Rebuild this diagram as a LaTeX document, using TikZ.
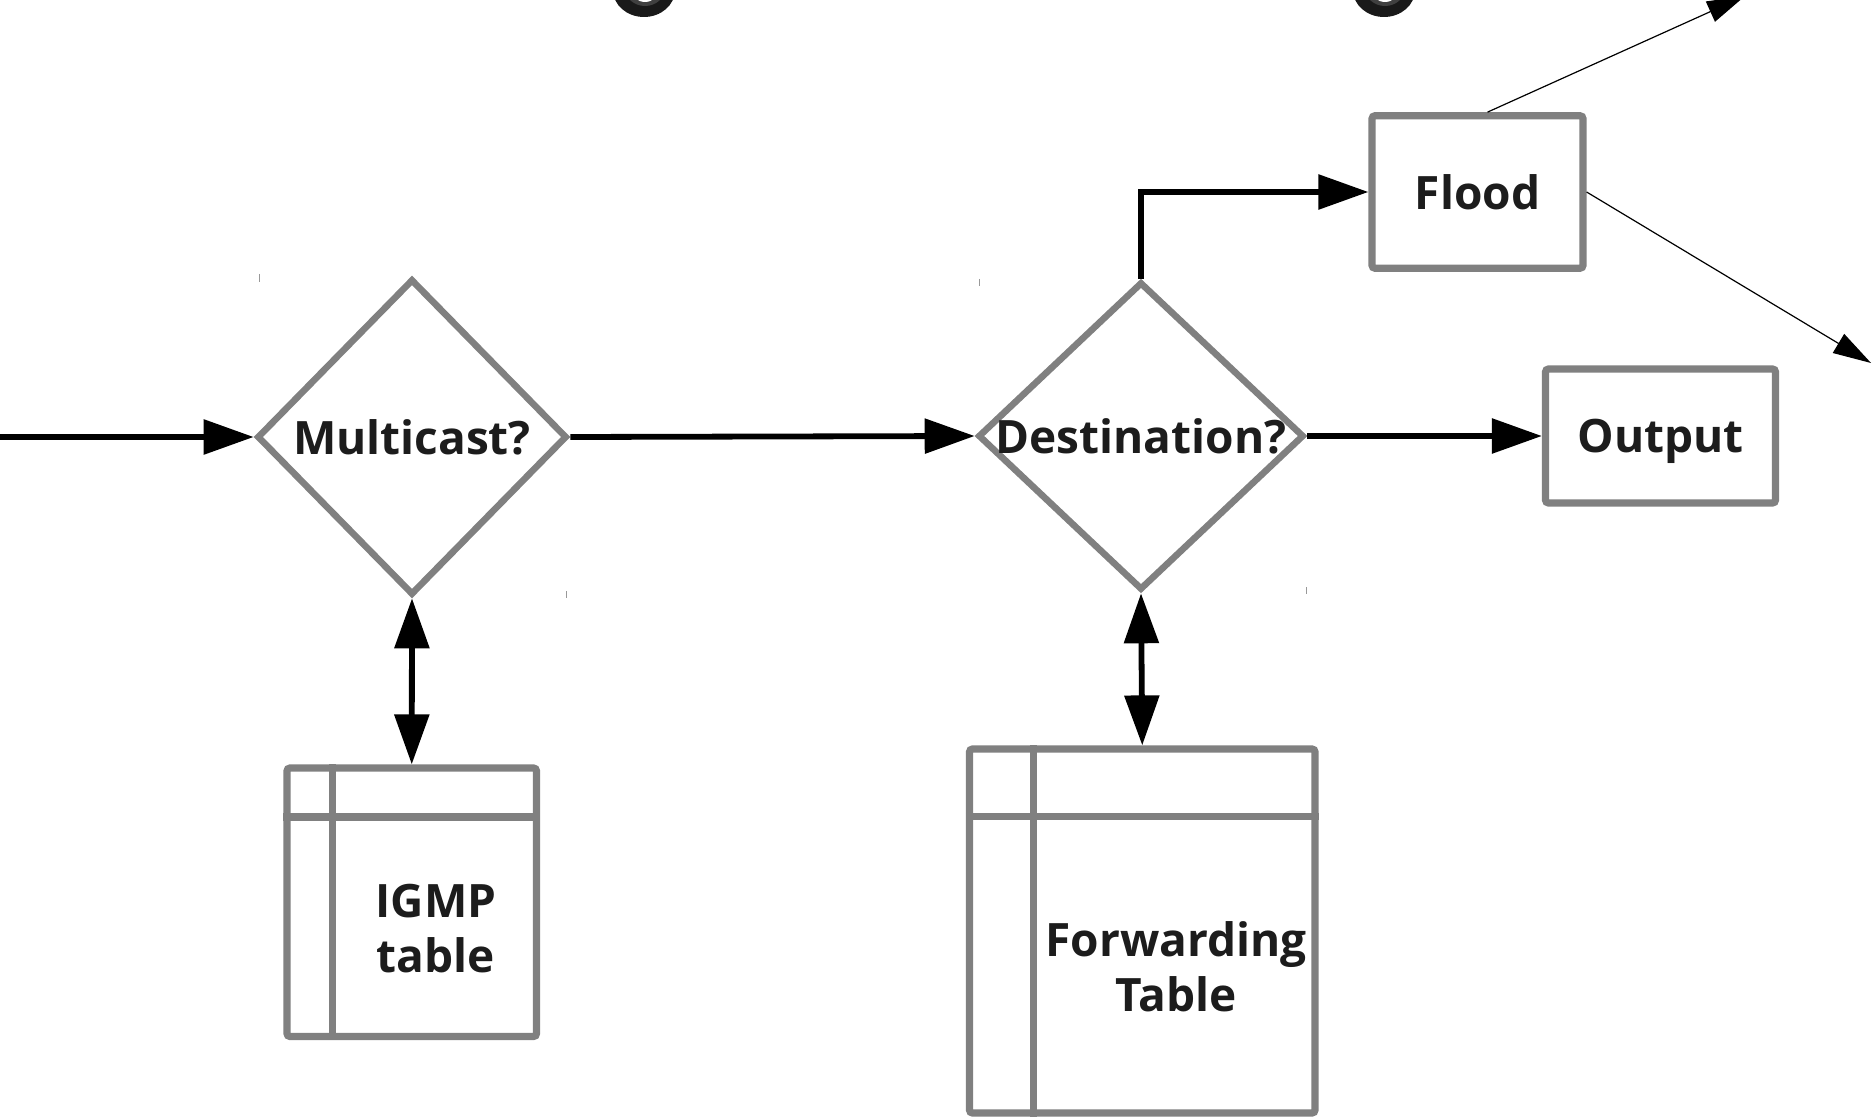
\documentclass[tikz,border=0pt]{standalone}
\usepackage{fontspec}
\setmainfont{Open Sans}
\usetikzlibrary{arrows.meta,shapes.geometric}
\definecolor{boxgray}{HTML}{808080}
\definecolor{txt}{HTML}{1C1C1C}
\newfontfamily\diafont{Open Sans}[BoldFont={* Bold}]
\begin{document}
\begin{tikzpicture}[x=0.5pt,y=-0.5pt,
  font=\diafont\bfseries\fontsize{23}{27.5}\selectfont,
  text=txt,
  decision/.style={diamond, draw=boxgray, line width=3.3pt, inner sep=0pt, fill=white},
  procbox/.style={rectangle, draw=boxgray, line width=3.6pt, rounded corners=1.5pt, inner sep=0pt, fill=white},
  tablebox/.style={rectangle, draw=boxgray, line width=3.6pt, rounded corners=1.5pt, inner sep=0pt},
  gridline/.style={draw=boxgray, line width=3.6pt},
  flowline/.style={draw=black, line width=2.9pt, -{Triangle[length=25pt,width=17pt]}},
  twoway/.style={draw=black, line width=2.9pt, {Triangle[length=25pt,width=17pt]}-{Triangle[length=25pt,width=17pt]}},
  thinline/.style={draw=black, line width=0.6pt, -{Triangle[length=19pt,width=11pt]}},
  cornertick/.style={draw=black!40, line width=0.5pt},
  tabletext/.style={align=center, inner sep=0pt}
]
\useasboundingbox (0,0) rectangle (1872,1117);
\clip (0,0) rectangle (1872,1117);

% partial shapes cut off at the top
\fill[black!90] (644,-10) ellipse [x radius=31, y radius=27];
\fill[black!75] (645,-12) ellipse [x radius=20, y radius=18];
\fill[white] (645,-12) ellipse [x radius=14, y radius=14];
\fill[black!90] (1384,-10) ellipse [x radius=31, y radius=27];
\fill[black!75] (1385,-12) ellipse [x radius=20, y radius=18];
\fill[white] (1385,-12) ellipse [x radius=14, y radius=14];

% decisions
\node[decision, minimum width=155pt, minimum height=158pt, label={[inner sep=0pt]center:Multicast?}] (mc) at (412,437) {};
\node[decision, minimum width=163pt, minimum height=154pt, label={[inner sep=0pt]center:Destination?}] (dest) at (1141,436) {};

% corner ticks
\draw[cornertick] (259,274) -- (259,282);
\draw[cornertick] (566,591) -- (566,598);
\draw[cornertick] (979,279) -- (979,286);
\draw[cornertick] (1306,587) -- (1306,594);

% process boxes
\node[procbox, minimum width=105.5pt, minimum height=76.25pt] (flood) at (1477.5,192) {Flood};
\node[procbox, minimum width=115pt, minimum height=67pt, text depth=0pt] (out) at (1660.5,436) {Output};

% tables
\node[tablebox, minimum width=124.75pt, minimum height=134.25pt] (igmp) at (411.75,902.25) {};
\draw[gridline] ([xshift=24.5pt]igmp.north west) -- ([xshift=24.5pt]igmp.south west);
\draw[gridline] ([yshift=-26.3pt]igmp.north west) -- ([yshift=-26.3pt]igmp.north east);
\node[tabletext] (igmptxt) at (436,929) {IGMP\\table};

\node[tablebox, minimum width=172.75pt, minimum height=182pt] (fwd) at (1142.25,931) {};
\draw[gridline] ([xshift=33.6pt]fwd.north west) -- ([xshift=33.6pt]fwd.south west);
\draw[gridline] ([yshift=-35.5pt]fwd.north west) -- ([yshift=-35.5pt]fwd.north east);
\node[tabletext] (fwdtxt) at (1176,967) {Forwarding\\Table};

% connectors
\coordinate (in) at (0,437);
\coordinate (tipA) at (1745,-4);
\coordinate (tipB) at (1871,363);
\draw[flowline] (in) -- (mc.west);
\draw[flowline] (mc.east) -- (dest.west);
\draw[flowline] (dest.east) -- (out.west);
\draw[flowline] (dest.north) |- (flood.west);
\draw[twoway] (mc.south) -- (igmp.north);
\draw[twoway] (dest.south) -- (fwd.north);
\draw[thinline] ([xshift=5pt]flood.north) -- (tipA);
\draw[thinline] (flood.east) -- (tipB);
\end{tikzpicture}
\end{document}
